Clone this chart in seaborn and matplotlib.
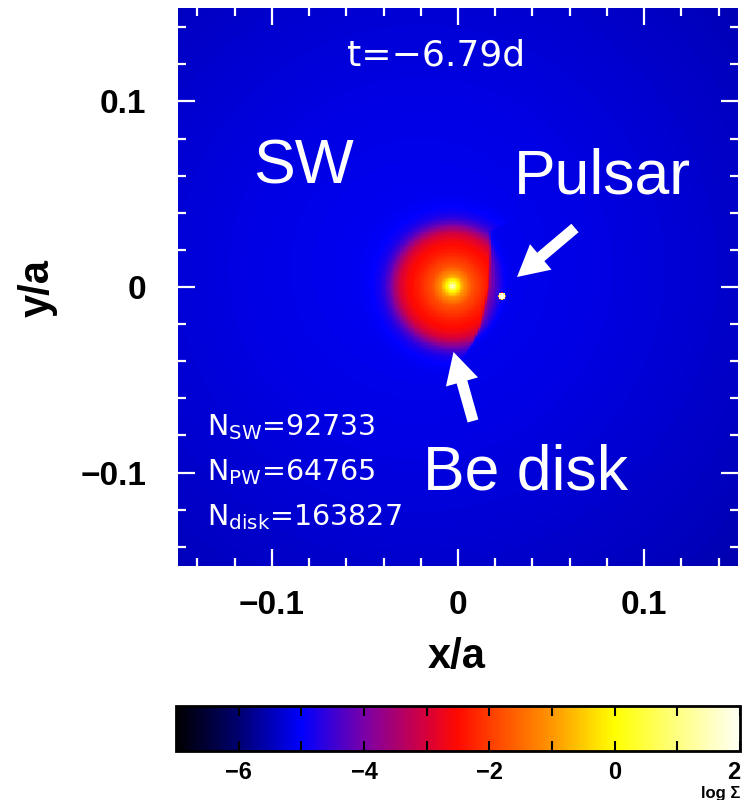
import numpy as np
import matplotlib
matplotlib.use("Agg")
import matplotlib.pyplot as plt
from matplotlib.colors import LinearSegmentedColormap
import seaborn as sns

# ---------------- values ----------------
x_limits = [-0.15, 0.15]
y_limits = [-0.15, 0.15]
major_ticks = [-0.1, 0.0, 0.1]
major_tick_labels = ["\u22120.1", "0", "0.1"]
minor_ticks = [-0.14, -0.12, -0.08, -0.06, -0.04, -0.02,
               0.02, 0.04, 0.06, 0.08, 0.12, 0.14]

color_range = [-7, 2]
cbar_major_ticks = [-6, -4, -2, 0, 2]
cbar_major_labels = ["\u22126", "\u22124", "\u22122", "0", "2"]
cbar_minor_ticks = [-5, -3, -1, 1]

cmap_levels = [-7, -6, -5, -4, -3, -2.5, -2, -1, 0, 1, 2]
cmap_colors = ["#000000", "#000070", "#0000ff", "#7a00a8", "#d8003a",
               "#ff0a00", "#ff3c00", "#ff9600", "#ffff00", "#ffff80", "#fffff4"]

# stellar wind background (log Sigma vs distance from its centre)
wind_center = [-0.02, 0.01]
wind_r = [0.0, 0.1, 0.2, 0.25]
wind_logsigma = [-5.05, -5.2, -5.45, -5.6]

# Be disk radial profile
be_star_pos = [-0.003, 0.0005]
disk_r = [0.0, 0.0012, 0.003, 0.006, 0.011, 0.018, 0.024, 0.028, 0.031, 0.034, 0.038, 0.05, 0.07]
disk_logsigma = [2.0, 1.0, 0.0, -1.0, -1.8, -2.3, -2.6, -3.0, -3.6, -4.3, -5.0, -6.5, -8.0]
# truncated (pulsar-facing) edge of the disk
edge_y = [-0.06, -0.04, -0.03, -0.02, 0.0, 0.02, 0.03, 0.036, 0.06]
edge_x = [-0.010, 0.002, 0.008, 0.0125, 0.0165, 0.0175, 0.0175, 0.03, 0.05]

# pulsar
pulsar_pos = [0.0236, -0.005]
pulsar_logsigma_peak = 2.0
pulsar_radius = 0.0015

time_label = "t=\u22126.79d"
count_labels = [r"N$_{\mathrm{SW}}$=92733", r"N$_{\mathrm{PW}}$=64765",
                r"N$_{\mathrm{disk}}$=163827"]
region_labels = ["SW", "Pulsar", "Be disk"]

# ---------------- build the surface density map ----------------
n = 401
xc = np.linspace(x_limits[0], x_limits[1], n)
yc = np.linspace(y_limits[1], y_limits[0], n)  # top row = +y
X, Y = np.meshgrid(xc, yc)

bg = np.interp(np.hypot(X - wind_center[0], Y - wind_center[1]), wind_r, wind_logsigma)
rd = np.hypot(X - be_star_pos[0], Y - be_star_pos[1])
disk = np.interp(rd, disk_r, disk_logsigma)
xe = np.interp(Y, edge_y, edge_x)
dx = X - xe
cut = 0.5 * (1 + np.tanh(dx / 0.0006))
disk = disk - cut * (1.4 + 120 * np.clip(dx, 0, None))
rp = np.hypot(X - pulsar_pos[0], Y - pulsar_pos[1])
psr_dens = 10 ** pulsar_logsigma_peak * np.exp(-(rp / pulsar_radius) ** 8)
field = np.log10(10 ** bg + 10 ** disk + psr_dens)
field = np.clip(field, color_range[0], color_range[1])

cmap = LinearSegmentedColormap.from_list(
    "sigma",
    [((lv - color_range[0]) / (color_range[1] - color_range[0]), c)
     for lv, c in zip(cmap_levels, cmap_colors)], N=512)

# ---------------- figure ----------------
sns.set_style("white")
plt.rcParams["font.family"] = ["Liberation Sans", "DejaVu Sans"]
plt.rcParams["text.color"] = "black"
plt.rcParams["axes.labelcolor"] = "black"
plt.rcParams["xtick.color"] = "black"
plt.rcParams["ytick.color"] = "black"

W, H = 744, 800
fig = plt.figure(figsize=(W / 100, H / 100), dpi=100)
L, R, T, B = 178, 738, 8, 566
ax = fig.add_axes([L / W, 1 - B / H, (R - L) / W, (B - T) / H])
cax = fig.add_axes([176 / W, 1 - 751 / H, 564 / W, 45 / H])

sns.heatmap(field, ax=ax, cmap=cmap, vmin=color_range[0], vmax=color_range[1],
            cbar_ax=cax, cbar_kws=dict(orientation="horizontal"),
            xticklabels=False, yticklabels=False)
ax.set_axisbelow(False)
cax.set_axisbelow(False)

cell_centres = np.arange(n) + 0.5
def xpos(v):
    return np.interp(v, xc, cell_centres)
def ypos(v):
    return np.interp(v, yc[::-1], cell_centres[::-1])

ax.set_xticks([xpos(v) for v in major_ticks])
ax.set_xticklabels(major_tick_labels)
ax.set_xticks([xpos(v) for v in minor_ticks], minor=True)
ax.set_yticks([ypos(v) for v in major_ticks])
ax.set_yticklabels(major_tick_labels)
ax.set_yticks([ypos(v) for v in minor_ticks], minor=True)

ax.tick_params(which="both", direction="in", top=True, bottom=True, left=True,
               right=True, color="white", labelcolor="black", width=1.6)
ax.tick_params(which="major", length=12.5)
ax.tick_params(which="minor", length=6)
ax.tick_params(axis="x", which="major", pad=17)
ax.tick_params(axis="y", which="major", pad=23)
for lab in ax.get_xticklabels() + ax.get_yticklabels():
    lab.set_fontsize(24)
    lab.set_fontweight("bold")
    lab.set_color("black")
for s in ax.spines.values():
    s.set_visible(False)

def fx(px):
    return (px - L) / (R - L)
def fy(py):
    return (B - py) / (B - T)

ax.set_xlabel("x/a", fontsize=30, fontweight="bold", color="black")
ax.xaxis.set_label_coords(fx(457), fy(668))
ax.xaxis.label.set_va("baseline")
ax.set_ylabel("y/a", fontsize=30, fontweight="bold", color="black")
ax.yaxis.set_label_coords(fx(49), fy(288))
ax.yaxis.label.set_va("baseline")

# in-plot texts
ax.text(fx(436), fy(65), time_label, transform=ax.transAxes, color="white",
        fontsize=26, family="DejaVu Sans", ha="center", va="baseline")
for lab, py in zip(count_labels, [435.5, 480.3, 525]):
    ax.text(fx(206.6), fy(py), lab, transform=ax.transAxes, color="white",
            fontsize=20.5, family="DejaVu Sans", ha="left", va="baseline")
for lab, (px, py) in zip(region_labels, [(303.5, 183), (602.5, 194), (525.5, 489)]):
    ax.text(fx(px), fy(py), lab, transform=ax.transAxes, color="white",
            fontsize=45, ha="center", va="baseline")

arrow_style = "simple,head_length=1.4,head_width=1.5,tail_width=0.5"
for tip, tail in [((517, 277), (575, 228)), ((453.5, 352), (473, 421))]:
    ax.annotate("", xy=(fx(tip[0]), fy(tip[1])), xytext=(fx(tail[0]), fy(tail[1])),
                xycoords="axes fraction", textcoords="axes fraction",
                arrowprops=dict(arrowstyle=arrow_style, color="white",
                                mutation_scale=16, shrinkA=0, shrinkB=0, lw=0))

# colorbar
cbar = ax.collections[0].colorbar
cbar.set_ticks(cbar_major_ticks)
cbar.set_ticklabels(cbar_major_labels)
cax.set_xticks(cbar_minor_ticks, minor=True)
cbar.outline.set_linewidth(2)
cbar.outline.set_edgecolor("black")
cax.tick_params(which="both", direction="in", top=True, bottom=True,
                length=7, width=1.5, color="black", labelcolor="black", pad=7)
for lab in cax.get_xticklabels():
    lab.set_fontsize(17)
    lab.set_fontweight("bold")
    lab.set_color("black")
cax.get_xticklabels()[-1].set_ha("right")
cax.text(1.0, -1.05, "log \u03a3", transform=cax.transAxes, ha="right",
         va="baseline", fontsize=12, fontweight="bold", color="black")

fig.savefig("out.png", dpi=100, facecolor="white")
